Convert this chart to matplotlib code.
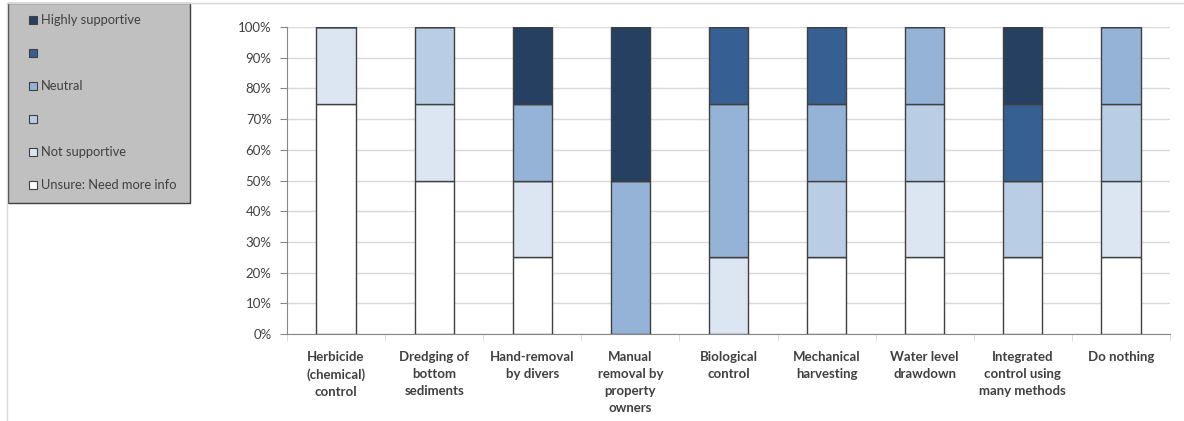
import numpy as np
import matplotlib
matplotlib.use("Agg")
import matplotlib.pyplot as plt
from matplotlib.lines import Line2D
from matplotlib.patches import Rectangle

plt.rcParams['font.family'] = ['Lato', 'DejaVu Sans']

# categories (x axis)
categories = ["Herbicide\n(chemical)\ncontrol", "Dredging of\nbottom\nsediments",
              "Hand-removal\nby divers", "Manual\nremoval by\nproperty\nowners",
              "Biological\ncontrol", "Mechanical\nharvesting", "Water level\ndrawdown",
              "Integrated\ncontrol using\nmany methods", "Do nothing"]

# series, stacked bottom to top (percent)
unsure       = [75, 50, 25, 0, 0, 25, 25, 25, 25]
not_support  = [25, 25, 25, 0, 25, 0, 25, 0, 25]
level_2      = [0, 25, 0, 0, 0, 25, 25, 25, 25]
neutral      = [0, 0, 25, 50, 50, 25, 25, 0, 25]
level_4      = [0, 0, 0, 0, 25, 25, 0, 25, 0]
highly       = [0, 0, 25, 50, 0, 0, 0, 25, 0]

series_labels = ["Unsure: Need more info", "Not supportive", "", "Neutral", "", "Highly supportive"]
series_colors = ["#FFFFFF", "#DCE6F2", "#B9CDE5", "#95B3D7", "#366092", "#254061"]
series_values = [unsure, not_support, level_2, neutral, level_4, highly]

W, H = 1184, 421
fig = plt.figure(figsize=(W / 100, H / 100), dpi=100)
ax = fig.add_axes([287/W, 87/H, (1170-287)/W, (394-87)/H])

x = np.arange(len(categories))
bottom = np.zeros(len(categories))
for vals, col, lab in zip(series_values, series_colors, series_labels):
    vals = np.array(vals, dtype=float)
    ax.bar(x, vals, 0.4, bottom=bottom, color=col, edgecolor='#404040',
           linewidth=1.0, label=lab, zorder=3)
    bottom += vals

ax.set_xlim(-0.5, len(categories) - 0.5)
ax.set_ylim(0, 100)
ax.set_yticks(np.arange(0, 101, 10))
ax.set_yticklabels([f"{v}%" for v in range(0, 101, 10)], fontsize=9.5, color='#404040')
ax.yaxis.grid(True, color='#D9D9D9', linewidth=1.0, zorder=0)
ax.tick_params(axis='y', length=5, color='#868686', pad=6)

ax.set_xticks(x)
ax.set_xticklabels(categories, fontsize=9.5, fontweight='bold', color='#404040',
                   linespacing=1.5, va='top')
ax.tick_params(axis='x', length=0, pad=12)
ax.set_xticks(np.arange(-0.5, len(categories)), minor=True)
ax.tick_params(axis='x', which='minor', length=5, color='#D9D9D9')

for s in ['top', 'right']:
    ax.spines[s].set_visible(False)
for s in ['left', 'bottom']:
    ax.spines[s].set_color('#868686')

# chart area border
fig.add_artist(Line2D([7/W, 7/W], [0, 1 - 3/H], transform=fig.transFigure,
                      color='#D9D9D9', linewidth=1))
fig.add_artist(Line2D([7/W, 1], [1 - 3/H, 1 - 3/H], transform=fig.transFigure,
                      color='#D9D9D9', linewidth=1))

# legend box, drawn by hand (top to bottom = reverse stacking order)
fig.add_artist(Rectangle((8/W, 1 - 203/H), 182/W, 200/H, transform=fig.transFigure,
                         facecolor='#C0C0C0', edgecolor='#404040', linewidth=1.0))
for i, (lab, col) in enumerate(zip(series_labels[::-1], series_colors[::-1])):
    yc = 20 + i * 33
    fig.add_artist(Rectangle((29/W, 1 - (yc + 4)/H), 8/W, 8/H, transform=fig.transFigure,
                             facecolor=col, edgecolor='#404040', linewidth=0.8))
    fig.text(41/W, 1 - yc/H, lab, fontsize=9.3, color='#404040', va='center', ha='left')

fig.savefig("out.png", dpi=100)
